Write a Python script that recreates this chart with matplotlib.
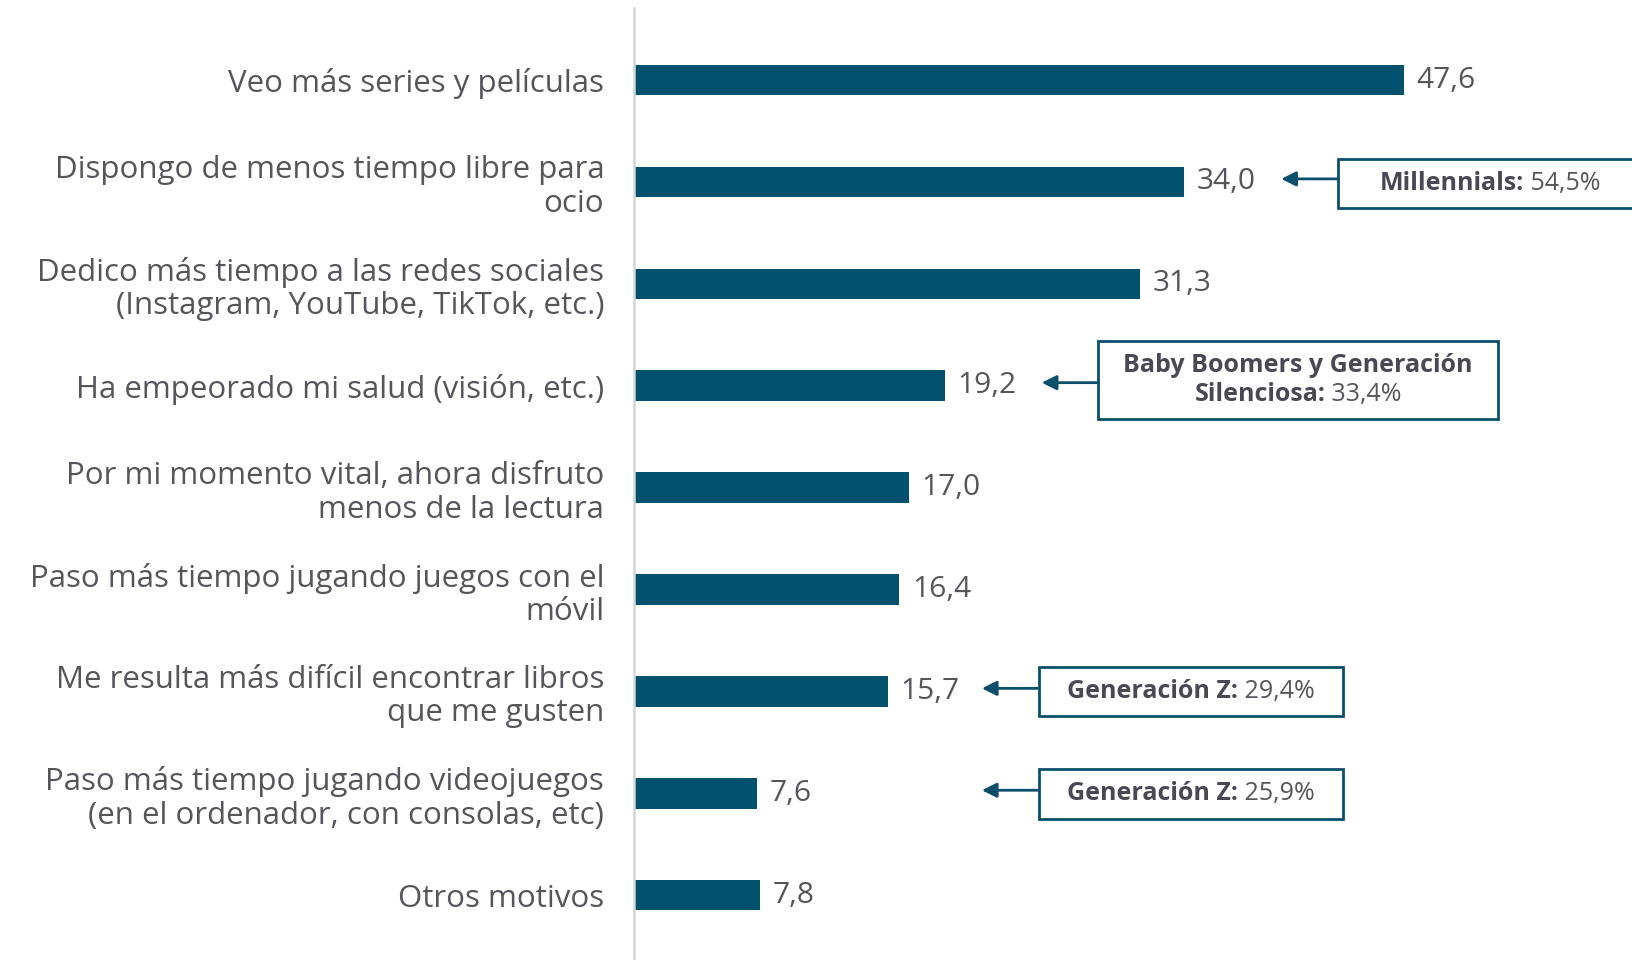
import matplotlib
matplotlib.use("Agg")
import matplotlib.pyplot as plt
from matplotlib.patches import Rectangle
from matplotlib.transforms import offset_copy

plt.rcParams['font.family'] = ['Open Sans', 'DejaVu Sans']

categories = [
    "Veo más series y películas",
    "Dispongo de menos tiempo libre para\nocio",
    "Dedico más tiempo a las redes sociales\n(Instagram, YouTube, TikTok, etc.)",
    "Ha empeorado mi salud (visión, etc.)",
    "Por mi momento vital, ahora disfruto\nmenos de la lectura",
    "Paso más tiempo jugando juegos con el\nmóvil",
    "Me resulta más difícil encontrar libros\nque me gusten",
    "Paso más tiempo jugando videojuegos\n(en el ordenador, con consolas, etc)",
    "Otros motivos",
]
values = [47.6, 34.0, 31.3, 19.2, 17.0, 16.4, 15.7, 7.6, 7.8]

# callouts: category index, bold part, regular part
callout_idx = [1, 3, 6, 7]
callout_bold = ["Millennials:", "Baby Boomers y Generación\nSilenciosa:", "Generación Z:", "Generación Z:"]
callout_rest = [" 54,5%", " 33,4%", " 29,4%", " 25,9%"]

BAR = "#02526F"
EDGE = "#0B4F6C"
TXT = "#56555C"
BOLD = "#4B4856"

fig = plt.figure(figsize=(16.33, 9.6), dpi=100)
ax = fig.add_axes([634 / 1633, 0, 999 / 1633, 952 / 960])

ypos = list(range(len(categories)))
bars = ax.barh(ypos, values, height=0.30, color=BAR)
ax.bar_label(bars, labels=[f"{v:.1f}".replace(".", ",") for v in values],
             padding=9, fontsize=21.5, color=TXT)

ax.set_xlim(0, 61.74)
ax.set_ylim(8.636, -0.707)
ax.set_yticks(ypos)
ax.set_yticklabels(categories, fontsize=22.5, color=TXT, linespacing=1.15)
ax.tick_params(axis="y", length=0, pad=21.5)
ax.set_xticks([])
for s in ["top", "right", "bottom"]:
    ax.spines[s].set_visible(False)
ax.spines["left"].set_color("#d6d6d6")
ax.spines["left"].set_linewidth(1.8)

# box geometry in data units: (left, right, top, bottom, arrow tip x, text centre x)
boxes = [
    (43.5, 63.0, 0.775, 1.256, 40.0, 52.9),
    (28.7, 53.4, 2.56, 3.33, 25.2, 41.05),
    (25.0, 43.8, 5.76, 6.24, 21.5, 34.4),
    (25.0, 43.8, 6.76, 7.25, 21.5, 34.4),
]

fig.canvas.draw()
r = fig.canvas.get_renderer()

for i, (b, rest, (l, rt, top, bot, tip, cx)) in enumerate(zip(callout_bold, callout_rest, boxes)):
    k = callout_idx[i]
    cy = (top + bot) / 2
    ax.add_patch(Rectangle((l, top), rt - l, bot - top, facecolor="white",
                           edgecolor=EDGE, lw=2, clip_on=False, zorder=3))
    ax.annotate("", xy=(tip, k - 0.03), xytext=(l, k - 0.03),
                arrowprops=dict(arrowstyle="-|>", color=EDGE, lw=2,
                                mutation_scale=22, shrinkA=0, shrinkB=0))
    lines = b.split("\n")
    if len(lines) == 2:
        ax.text(cx, cy - 0.143, lines[0], ha="center", va="center", fontsize=18,
                fontweight="bold", color=BOLD, zorder=4)
        ty = cy + 0.143
        bpart = lines[1]
    else:
        ty = cy
        bpart = lines[0]
    t1 = ax.text(cx, ty, bpart, ha="left", va="center", fontsize=18,
                 fontweight="bold", color=BOLD, zorder=4)
    t2 = ax.text(cx, ty, rest, ha="left", va="center", fontsize=18,
                 color=TXT, zorder=4)
    w1 = t1.get_window_extent(r).width
    w2 = t2.get_window_extent(r).width
    tot = w1 + w2
    t1.set_transform(offset_copy(ax.transData, fig=fig, x=-tot / 2, y=0, units="dots"))
    t2.set_transform(offset_copy(ax.transData, fig=fig, x=-tot / 2 + w1, y=0, units="dots"))

fig.savefig("out.png", dpi=100, facecolor="white")
